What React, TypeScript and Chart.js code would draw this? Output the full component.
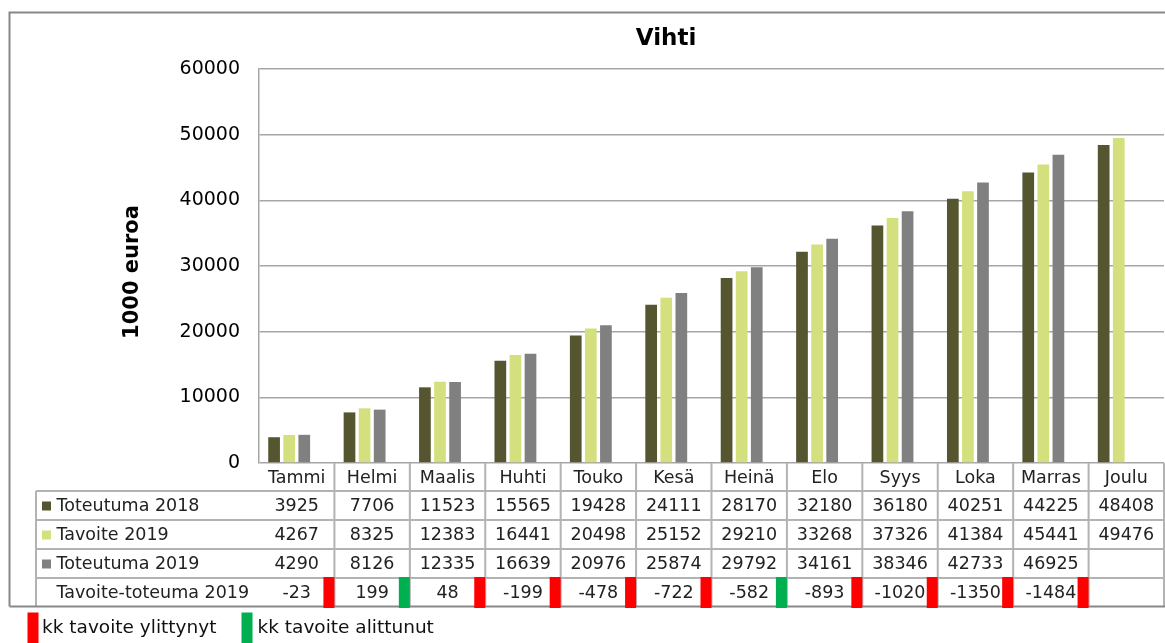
import React, { useEffect, useRef } from "react";
import { Chart, registerables } from "chart.js";

Chart.register(...registerables);

const chartTitle = "Vihti";
const yAxisTitle = "1000 euroa";
const months = ["Tammi", "Helmi", "Maalis", "Huhti", "Touko", "Kesä", "Heinä", "Elo", "Syys", "Loka", "Marras", "Joulu"];
const toteutuma2018 = [3925, 7706, 11523, 15565, 19428, 24111, 28170, 32180, 36180, 40251, 44225, 48408];
const tavoite2019 = [4267, 8325, 12383, 16441, 20498, 25152, 29210, 33268, 37326, 41384, 45441, 49476];
const toteutuma2019 = [4290, 8126, 12335, 16639, 20976, 25874, 29792, 34161, 38346, 42733, 46925, null];
const tavoiteToteutuma2019 = [-23, 199, 48, -199, -478, -722, -582, -893, -1020, -1350, -1484, null];
// monthly target status: "yli" = kk tavoite ylittynyt (red), "ali" = kk tavoite alittunut (green)
const kkStatus = ["yli", "ali", "yli", "yli", "yli", "yli", "ali", "yli", "yli", "yli", "yli", null];
const seriesNames = ["Toteutuma 2018", "Tavoite 2019", "Toteutuma 2019", "Tavoite-toteuma 2019"];
const seriesColors = ["#555530", "#d4e07e", "#808080", "rgba(0,0,0,0)"];
const yMin = 0;
const yMax = 60000;
const yStep = 10000;
const legendLabels = ["kk tavoite ylittynyt", "kk tavoite alittunut"];
const statusColors: Record<string, string> = { yli: "#ff0000", ali: "#00b050" };

const FONT = "'DejaVu Sans', Verdana, sans-serif";

const tablePlugin = {
  id: "tablePlugin",
  afterDraw(chart: any) {
    const ctx = chart.ctx as CanvasRenderingContext2D;
    const area = chart.chartArea;
    const xs = chart.scales.x;
    const n = months.length;
    const colW = (area.right - area.left) / n;
    const tableLeft = 36;
    const top = area.bottom;
    const rowLines = [top, top + 28, top + 57, top + 86, top + 115, top + 144];
    const cellLeft = (i: number) => xs.getPixelForValue(i) - colW / 2;

    ctx.save();

    // title
    ctx.fillStyle = "#000";
    ctx.font = `bold 23px ${FONT}`;
    ctx.textAlign = "center";
    ctx.textBaseline = "middle";
    ctx.fillText(chartTitle, 666, 39);

    // y axis title
    ctx.save();
    ctx.translate(133, 272);
    ctx.rotate(-Math.PI / 2);
    ctx.font = `bold 21px ${FONT}`;
    ctx.fillText(yAxisTitle, 0, 0);
    ctx.restore();

    // table lines
    ctx.strokeStyle = "#b3b3b3";
    ctx.lineWidth = 2;
    ctx.beginPath();
    for (let r = 1; r < rowLines.length - 1; r++) {
      ctx.moveTo(tableLeft, rowLines[r]);
      ctx.lineTo(area.right, rowLines[r]);
    }
    ctx.moveTo(tableLeft, rowLines[1]);
    ctx.lineTo(tableLeft, rowLines[5]);
    for (let i = 1; i <= n; i++) {
      const x = i === n ? area.right : cellLeft(i);
      ctx.moveTo(x, top);
      ctx.lineTo(x, rowLines[5]);
    }
    ctx.stroke();

    // outer frame
    ctx.strokeStyle = "#888888";
    ctx.lineWidth = 2;
    ctx.beginPath();
    ctx.moveTo(9.5, 606.5);
    ctx.lineTo(9.5, 12.5);
    ctx.lineTo(1166, 12.5);
    ctx.moveTo(9.5, 606.5);
    ctx.lineTo(1166, 606.5);
    ctx.stroke();

    // month headers
    ctx.fillStyle = "#222";
    ctx.font = `17.5px ${FONT}`;
    ctx.textAlign = "center";
    ctx.textBaseline = "middle";
    months.forEach((m, i) => {
      ctx.fillText(m, xs.getPixelForValue(i), (rowLines[0] + rowLines[1]) / 2 + 1);
    });

    const rows = [toteutuma2018, tavoite2019, toteutuma2019, tavoiteToteutuma2019];
    rows.forEach((vals, r) => {
      const yc = (rowLines[r + 1] + rowLines[r + 2]) / 2 + 1;
      ctx.textAlign = "left";
      ctx.fillStyle = "#222";
      ctx.fillText(seriesNames[r], 56.5, yc);
      if (r < 3) {
        ctx.fillStyle = seriesColors[r];
        ctx.fillRect(42, yc - 5, 9, 9);
      }
      ctx.fillStyle = "#222";
      ctx.textAlign = "center";
      vals.forEach((v, i) => {
        if (v === null || v === undefined) return;
        ctx.fillText(String(v), xs.getPixelForValue(i), yc);
      });
    });

    // monthly status markers
    kkStatus.forEach((s, i) => {
      if (!s) return;
      const right = i === n - 1 ? area.right : cellLeft(i + 1);
      ctx.fillStyle = statusColors[s];
      ctx.fillRect(right - 11, rowLines[4] - 1, 11, 31);
    });

    // bottom legend
    ctx.font = `18.5px ${FONT}`;
    ctx.textAlign = "left";
    ctx.textBaseline = "middle";
    ctx.fillStyle = statusColors.yli;
    ctx.fillRect(27.5, 612.5, 11, 31);
    ctx.fillStyle = "#111";
    ctx.fillText(legendLabels[0], 42, 628);
    ctx.fillStyle = statusColors.ali;
    ctx.fillRect(241.5, 612.5, 11, 31);
    ctx.fillStyle = "#111";
    ctx.fillText(legendLabels[1], 257.5, 628);

    ctx.restore();
  },
};

const whiteBg = {
  id: "whiteBg",
  beforeDraw(chart: any) {
    const ctx = chart.ctx;
    ctx.save();
    ctx.fillStyle = "#fff";
    ctx.fillRect(0, 0, chart.width, chart.height);
    ctx.restore();
  },
};

export default function App() {
  const ref = useRef<HTMLCanvasElement | null>(null);

  useEffect(() => {
    if (!ref.current) return;
    const datasets = [toteutuma2018, tavoite2019, toteutuma2019, tavoiteToteutuma2019].map((d, i) => ({
      label: seriesNames[i],
      data: d,
      backgroundColor: seriesColors[i],
      borderWidth: 0,
      categoryPercentage: 0.8,
      barPercentage: 0.776,
    }));
    const chart = new Chart(ref.current, {
      type: "bar",
      data: { labels: months, datasets },
      options: {
        responsive: false,
        animation: false,
        devicePixelRatio: 1,
        layout: { padding: { top: 69, right: 1, bottom: 180, left: 0 } },
        plugins: {
          legend: { display: false },
          title: { display: false },
          tooltip: { enabled: false },
        },
        scales: {
          x: { display: false },
          y: {
            min: yMin,
            max: yMax,
            ticks: {
              stepSize: yStep,
              padding: 19,
              color: "#000",
              font: { family: FONT, size: 19 },
              callback: (v: any) => String(v),
            },
            grid: { color: "#a6a6a6", lineWidth: 1.5, drawTicks: false },
            border: { display: true, color: "#a6a6a6", width: 1.5 },
            afterFit: (scale: any) => {
              scale.width = 259;
            },
          },
        },
      },
      plugins: [whiteBg, tablePlugin],
    });
    return () => chart.destroy();
  }, []);

  return (
    <div style={{ position: "fixed", left: 0, top: 0, width: 1165, height: 643, background: "#fff" }}>
      <canvas ref={ref} width={1165} height={643} style={{ display: "block" }} />
    </div>
  );
}
